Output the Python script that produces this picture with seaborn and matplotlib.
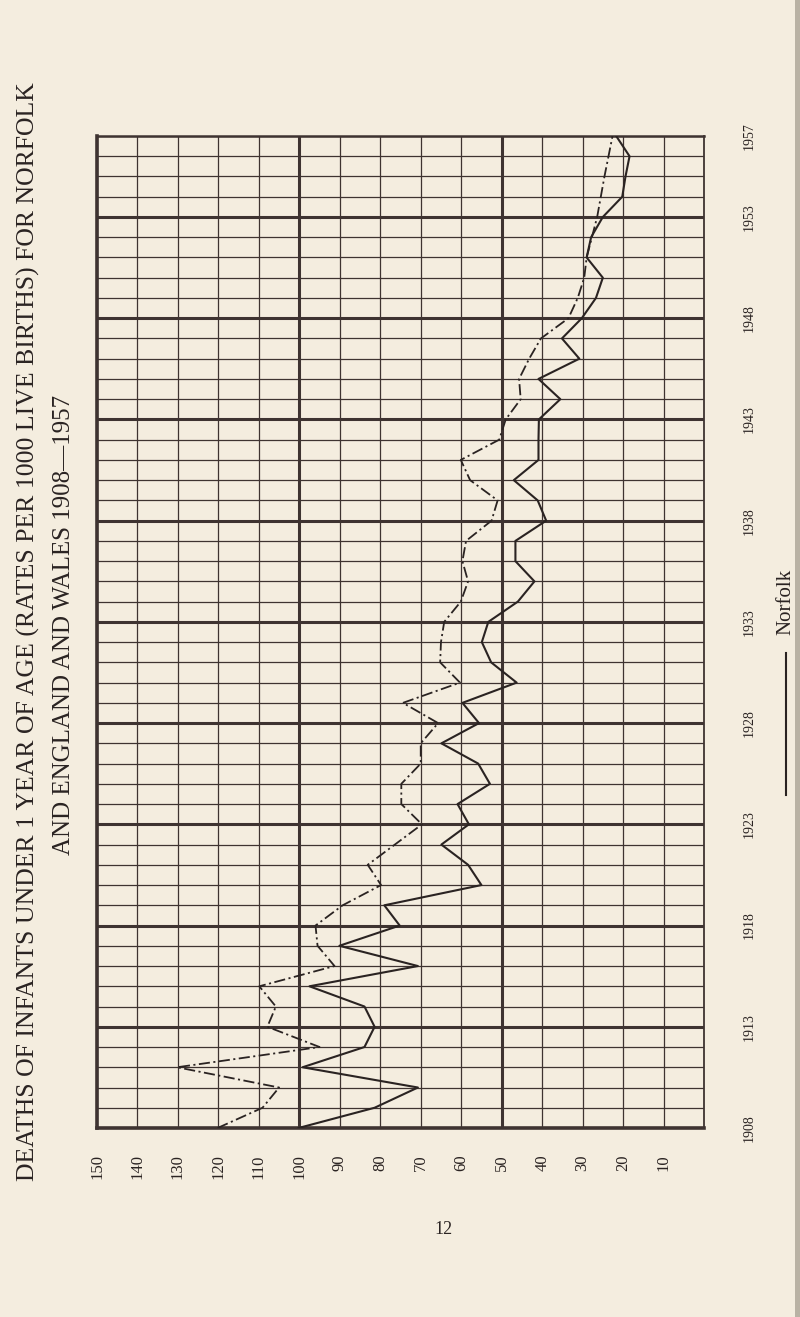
import numpy as np
import pandas as pd
import matplotlib
matplotlib.use("Agg")
import matplotlib.pyplot as plt
import seaborn as sns
from matplotlib.lines import Line2D
from matplotlib.patches import Rectangle

# ---- data ----
years = list(range(1908, 1958))
norfolk = [100.2, 81.4, 70.7, 99.2, 83.9, 81.4, 83.9, 97.5, 70.7, 90.1,
           75.2, 79.0, 55.0, 58.3, 64.9, 58.1, 60.9, 52.9, 55.8, 64.9,
           55.6, 59.7, 46.3, 52.6, 54.9, 53.3, 46.0, 41.9, 46.6, 46.6,
           39.0, 41.1, 47.0, 40.9, 40.9, 40.8, 35.5, 40.9, 30.8, 35.1,
           30.2, 26.7, 25.0, 29.0, 27.9, 25.0, 20.2, 19.4, 18.4, 21.7]
england_wales = [120.2, 109.1, 105.0, 130.2, 95.0, 107.9, 105.8, 109.9, 91.3, 95.5,
                 96.0, 89.3, 79.8, 83.1, 76.4, 69.7, 74.8, 74.8, 70.0, 70.0,
                 65.7, 74.4, 60.3, 65.2, 65.0, 64.2, 60.1, 58.3, 59.7, 58.8,
                 52.5, 51.0, 57.8, 60.1, 50.6, 49.0, 45.3, 45.7, 43.2, 40.3,
                 33.5, 31.2, 29.6, 29.0, 27.7, 26.4, 25.5, 24.6, 23.6, 22.6]
rate_ticks = list(range(10, 151, 10))
year_labels = [1908, 1913, 1918, 1923, 1928, 1933, 1938, 1943, 1948, 1953, 1957]

title1 = "DEATHS OF INFANTS UNDER 1 YEAR OF AGE (RATES PER 1000 LIVE BIRTHS) FOR NORFOLK"
title2 = "AND ENGLAND AND WALES 1908\u20141957"

df = pd.DataFrame({"year": years + years,
                   "rate": norfolk + england_wales,
                   "area": ["Norfolk"] * len(years) + ["England and Wales"] * len(years)})

# ---- style ----
plt.rcParams["lines.scale_dashes"] = False
serif = ["Liberation Serif", "DejaVu Serif"]
bg = "#f4eddf"
ink = "#2a2322"
gridc = "#3e3331"

fig = plt.figure(figsize=(8, 13.17), dpi=100, facecolor=bg)
W, H = 800, 1317
ax = fig.add_axes([97 / W, 1 - 1128 / H, 607 / W, 992 / H])
ax.set_facecolor(bg)

# grid
ax.set_xlim(150, 0)
ax.set_ylim(1908, 1957)
ax.set_xticks(rate_ticks)
ax.set_yticks(years)
ax.grid(True, color=gridc, lw=0.9, zorder=0)
for v in (50, 100):
    ax.axvline(v, color=gridc, lw=2.2, zorder=1)
for y in range(1913, 1957, 5):
    ax.axhline(y, color=gridc, lw=2.2, zorder=1)
for side, lw in (("left", 2.6), ("bottom", 2.6), ("top", 1.8), ("right", 1.3)):
    ax.spines[side].set_visible(True)
    ax.spines[side].set_color(gridc)
    ax.spines[side].set_linewidth(lw)

# lines
sub_n = df[df["area"] == "Norfolk"]
sub_e = df[df["area"] == "England and Wales"]
sns.lineplot(data=sub_n, x="rate", y="year", orient="y", estimator=None,
             color=ink, lw=1.5, ax=ax, zorder=3)
sns.lineplot(data=sub_e, x="rate", y="year", orient="y", estimator=None,
             color=ink, lw=1.3, linestyle=(0, (8, 2.5, 1.5, 2.5)), ax=ax, zorder=3)
ax.set_xlabel("")
ax.set_ylabel("")

# tick labels
ax.set_xticklabels([str(v) for v in rate_ticks], rotation=90, fontsize=12,
                   family=serif, color=ink)
ax.tick_params(axis="x", length=0, pad=19)
ax.yaxis.tick_right()
ax.set_yticklabels([str(y) if y in year_labels else "" for y in years],
                   rotation=90, fontsize=10, family=serif, color=ink, va="center")
ax.tick_params(axis="y", length=0, pad=28, labelright=True, labelleft=False)

# title (rotated)
fig.text(28 / W, 1 - 632 / H, title1, rotation=90, ha="center", va="center",
         fontsize=18.5, family=serif, color=ink)
fig.text(64 / W, 1 - 625 / H, title2, rotation=90, ha="center", va="center",
         fontsize=18, family=serif, color=ink)

# legend (rotated, manual)
fig.add_artist(Line2D([786 / W, 786 / W], [1 - 653 / H, 1 - 795 / H],
                      transform=fig.transFigure, color=ink, lw=1.5))
fig.text(786 / W, 1 - 602 / H, "Norfolk", rotation=90, ha="center", va="center",
         fontsize=15, family=serif, color=ink)

# page number
fig.text(443 / W, 1 - 1230 / H, "12", ha="center", va="center",
         fontsize=13, family=serif, color=ink)

# page edge shadow
fig.add_artist(Rectangle((795 / W, 0), 5 / W, 1, transform=fig.transFigure,
                         color="#b9b2a4", lw=0))

fig.savefig("out.png", dpi=100, facecolor=bg)
